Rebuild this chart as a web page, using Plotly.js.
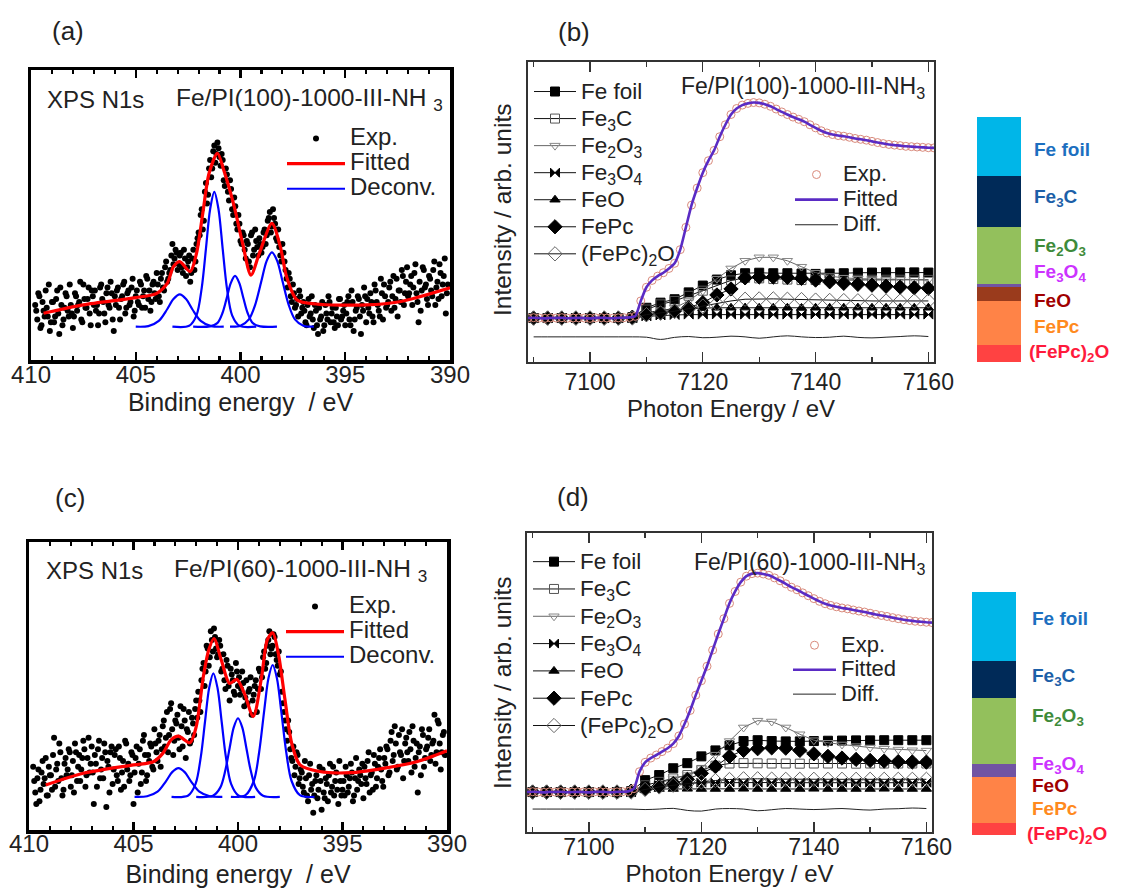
<!DOCTYPE html>
<html><head><meta charset="utf-8">
<script src="https://cdn.plot.ly/plotly-3.0.1.min.js"></script>
<style>body{margin:0;background:#fff}#chart{width:1124px;height:888px}</style>
</head><body><div id="chart"></div>
<script>
// ---------------- DATA ----------------
// XPS N1s (a): experimental points on two interleaved 0.1 eV grids (409.8 and 409.75 eV start)
const xpsA_start = 409.8, xpsA_start2 = 409.75, xps_step = -0.1;
const xpsA_exp = [
0.19,0.14,0.22,0.12,0.17,0.24,0.15,0.10,0.20,
0.13,0.21,0.16,0.25,0.12,0.18,0.22,0.15,0.19,0.11,
0.23,0.17,0.20,0.14,0.26,0.18,0.21,0.16,0.24,0.19,
0.17,0.12,0.25,0.21,0.16,0.23,0.19,0.27,0.14,0.22,
0.24,0.18,0.21,0.26,0.16,0.23,0.19,0.25,0.15,0.22,
0.20,0.27,0.18,0.24,0.29,0.21,0.17,0.26,0.23,0.30,
0.22,0.28,0.25,0.32,0.27,0.30,0.36,0.33,0.38,0.31,
0.36,0.32,0.38,0.29,0.34,0.27,0.35,0.31,0.40,0.44,
0.50,0.45,0.58,0.54,0.66,0.63,0.72,0.68,0.75,0.70,
0.71,0.62,0.66,0.58,0.62,0.52,0.56,0.47,0.50,0.41,
0.44,0.38,0.41,0.34,0.43,0.36,0.45,0.39,0.42,0.37,
0.44,0.40,0.48,0.51,0.46,0.49,0.42,0.45,0.36,0.40,
0.34,0.28,0.30,0.22,0.26,0.18,0.21,0.24,0.16,0.20,
0.13,0.19,0.15,0.22,0.11,0.17,0.09,0.14,0.20,0.12,
0.16,0.22,0.13,0.18,0.11,0.15,0.21,0.14,0.17,0.12,
0.20,0.14,0.24,0.10,0.17,0.22,0.15,0.19,0.25,0.13,
0.18,0.23,0.15,0.26,0.20,0.17,0.28,0.14,0.22,0.19,
0.25,0.17,0.29,0.21,0.15,0.24,0.31,0.19,0.27,0.22,
0.26,0.19,0.30,0.23,0.13,0.17,0.32,0.25,0.21,0.29,
0.24,0.31,0.19,0.27,0.33,0.22,0.29,0.16,0.26];
const xpsA_exp2 = [
0.17,0.23,0.11,0.20,0.15,0.18,0.26,0.13,
0.20,0.15,0.24,0.09,0.19,0.14,0.23,0.17,0.26,0.16,
0.15,0.22,0.19,0.27,0.13,0.21,0.18,0.25,0.12,0.22,
0.24,0.19,0.16,0.26,0.20,0.13,0.25,0.18,0.23,0.10,
0.19,0.25,0.14,0.22,0.27,0.18,0.24,0.20,0.28,0.17,
0.24,0.19,0.26,0.22,0.18,0.28,0.24,0.20,0.27,0.21,
0.26,0.20,0.30,0.24,0.34,0.28,0.31,0.40,0.35,0.37,
0.33,0.37,0.30,0.35,0.32,0.36,0.30,0.38,0.34,0.42,
0.43,0.52,0.48,0.61,0.57,0.69,0.66,0.74,0.71,0.73,
0.67,0.69,0.60,0.64,0.55,0.59,0.50,0.53,0.45,0.47,
0.40,0.43,0.35,0.40,0.32,0.44,0.38,0.41,0.36,0.40,
0.39,0.45,0.43,0.49,0.44,0.52,0.47,0.41,0.39,0.34,
0.37,0.31,0.25,0.28,0.20,0.23,0.19,0.15,0.22,0.18,
0.17,0.12,0.21,0.16,0.14,0.19,0.12,0.18,0.15,0.10,
0.19,0.14,0.20,0.16,0.13,0.18,0.12,0.21,0.15,0.19,
0.16,0.22,0.12,0.20,0.14,0.18,0.21,0.09,0.17,0.22,
0.21,0.16,0.20,0.13,0.24,0.19,0.15,0.23,0.26,0.18,
0.20,0.27,0.22,0.18,0.28,0.24,0.20,0.29,0.23,0.32,
0.23,0.29,0.25,0.33,0.20,0.27,0.24,0.31,0.26,0.19,
0.28,0.22,0.34,0.25,0.21,0.30,0.26,0.35,0.23];
const fitA_E = [409.4,407.5,405.0,404.0,403.5,403.2,402.9,402.4,402.1,401.8,401.5,401.1,400.8,400.3,399.9,399.5,399.1,398.5,398.1,397.8,397.3,396.4,394.0,392.4,390.0];
const fitA_I = [0.161,0.190,0.215,0.230,0.264,0.322,0.339,0.305,0.368,0.506,0.644,0.713,0.655,0.529,0.402,0.293,0.368,0.471,0.391,0.287,0.207,0.193,0.190,0.201,0.249];
const gA1_E = [405.0,404.4,403.9,403.5,403.2,402.9,402.6,402.3,401.9,401.4,400.8];
const gA1_I = [0.115,0.117,0.135,0.175,0.210,0.226,0.210,0.175,0.135,0.117,0.115];
const gA2_E = [403.25,402.45,402.1,401.85,401.65,401.45,401.25,401.05,400.85,400.65,400.4,400.05,399.25];
const gA2_I = [0.115,0.118,0.154,0.249,0.383,0.52,0.58,0.52,0.383,0.249,0.154,0.118,0.115];
const gA3_E = [402.26,401.46,401.11,400.86,400.66,400.46,400.26,400.06,399.86,399.66,399.41,399.06,398.26];
const gA3_I = [0.115,0.116,0.127,0.162,0.213,0.266,0.29,0.266,0.213,0.162,0.127,0.116,0.115];
const gA4_E = [400.5,400.0,399.6,399.3,399.0,398.75,398.5,398.25,398.0,397.7,397.4,397.0,396.5];
const gA4_I = [0.115,0.118,0.140,0.190,0.273,0.342,0.371,0.342,0.273,0.190,0.140,0.118,0.115];

// XPS N1s (c)
const xpsC_start = 409.8, xpsC_start2 = 409.75;
const xpsC_exp = [
0.22,0.13,0.18,0.10,0.20,0.16,0.25,0.12,0.19,
0.14,0.32,0.21,0.17,0.27,0.12,0.23,0.19,0.28,0.15,
0.24,0.30,0.17,0.26,0.21,0.31,0.15,0.25,0.20,0.29,
0.09,0.23,0.28,0.18,0.25,0.30,0.08,0.22,0.27,0.16,
0.26,0.19,0.29,0.14,0.24,0.31,0.21,0.17,0.27,0.09,
0.25,0.13,0.28,0.20,0.33,0.17,0.26,0.30,0.22,0.35,
0.27,0.31,0.22,0.36,0.29,0.41,0.33,0.44,0.26,0.38,
0.40,0.28,0.36,0.42,0.25,0.34,0.30,0.39,0.33,0.45,
0.48,0.41,0.56,0.50,0.64,0.57,0.69,0.62,0.67,0.60,
0.66,0.55,0.61,0.49,0.57,0.45,0.54,0.48,0.58,0.50,
0.47,0.55,0.43,0.52,0.48,0.53,0.45,0.50,0.41,0.56,
0.49,0.60,0.56,0.64,0.69,0.63,0.68,0.61,0.57,0.54,
0.48,0.41,0.35,0.38,0.28,0.24,0.19,0.27,0.16,0.21,
0.15,0.24,0.12,0.19,0.14,0.06,0.17,0.11,0.22,0.07,
0.13,0.18,0.10,0.23,0.15,0.12,0.20,0.09,0.17,0.14,
0.12,0.19,0.15,0.23,0.10,0.18,0.14,0.21,0.16,0.11,
0.18,0.24,0.13,0.20,0.26,0.15,0.22,0.28,0.17,0.25,
0.29,0.19,0.31,0.24,0.36,0.21,0.33,0.26,0.18,0.30,
0.27,0.34,0.20,0.31,0.25,0.13,0.29,0.35,0.22,0.28,
0.32,0.24,0.30,0.40,0.27,0.37,0.21,0.33,0.26];
const xpsC_exp2 = [
0.17,0.09,0.21,0.14,0.24,0.18,0.12,0.22,
0.19,0.26,0.15,0.23,0.30,0.18,0.14,0.25,0.21,0.27,
0.19,0.13,0.27,0.22,0.17,0.25,0.28,0.19,0.32,0.23,
0.20,0.26,0.15,0.31,0.21,0.18,0.27,0.24,0.13,0.29,
0.21,0.28,0.17,0.25,0.20,0.15,0.30,0.23,0.19,0.26,
0.20,0.29,0.23,0.16,0.31,0.26,0.19,0.24,0.29,0.21,
0.30,0.24,0.33,0.28,0.38,0.32,0.27,0.42,0.35,0.31,
0.37,0.32,0.43,0.29,0.38,0.35,0.41,0.31,0.37,0.42,
0.39,0.45,0.52,0.58,0.55,0.63,0.60,0.66,0.70,0.63,
0.61,0.64,0.56,0.52,0.59,0.50,0.56,0.52,0.47,0.55,
0.53,0.49,0.51,0.46,0.44,0.49,0.40,0.47,0.52,0.49,
0.55,0.53,0.62,0.58,0.66,0.61,0.64,0.67,0.59,0.62,
0.55,0.44,0.38,0.31,0.34,0.25,0.29,0.22,0.26,0.18,
0.20,0.13,0.18,0.10,0.23,0.16,0.12,0.19,0.14,0.17,
0.21,0.11,0.16,0.19,0.13,0.22,0.17,0.14,0.24,0.12,
0.17,0.22,0.13,0.18,0.20,0.12,0.25,0.17,0.19,0.23,
0.22,0.16,0.27,0.19,0.14,0.23,0.18,0.25,0.21,0.15,
0.23,0.28,0.20,0.34,0.26,0.30,0.22,0.27,0.35,0.24,
0.32,0.24,0.28,0.36,0.22,0.30,0.27,0.19,0.33,0.25,
0.29,0.35,0.26,0.31,0.23,0.38,0.30,0.27,0.34];
const fitC_E = [409.2,407.4,405.0,404.05,403.6,403.2,402.85,402.3,402.0,401.66,401.4,401.15,400.8,400.4,400.06,399.7,399.27,398.87,398.6,398.34,398.07,397.75,397.43,397.03,396.1,394.6,393.05,391.45,390.0];
const fitC_I = [0.156,0.197,0.226,0.237,0.266,0.313,0.326,0.303,0.359,0.532,0.625,0.665,0.590,0.509,0.523,0.475,0.394,0.532,0.660,0.685,0.613,0.451,0.301,0.226,0.203,0.199,0.214,0.237,0.275];
const gC1_E = [404.95,404.35,403.85,403.45,403.15,402.85,402.55,402.25,401.85,401.35,400.75];
const gC1_I = [0.115,0.117,0.133,0.169,0.201,0.215,0.201,0.169,0.133,0.117,0.115];
const gC2_E = [403.18,402.38,402.03,401.78,401.58,401.38,401.18,400.98,400.78,400.58,400.33,399.98,399.18];
const gC2_I = [0.115,0.12,0.160,0.254,0.375,0.493,0.544,0.493,0.375,0.254,0.160,0.12,0.115];
const gC3_E = [402.0,401.2,400.85,400.6,400.4,400.2,400.0,399.8,399.6,399.4,399.15,398.8,398.0];
const gC3_I = [0.115,0.119,0.147,0.209,0.285,0.357,0.388,0.357,0.285,0.209,0.147,0.119,0.115];
const gC4_E = [400.34,399.64,399.24,398.99,398.74,398.54,398.34,398.14,397.94,397.69,397.44,397.04,396.34];
const gC4_I = [0.115,0.121,0.171,0.269,0.418,0.528,0.573,0.528,0.418,0.269,0.171,0.121,0.115];

// Fe K-edge XANES, 1 eV grid from 7089 eV
const xas_start = 7089, xas_step = 1;
const xasB_exp = [0,0.002,0,-0.002,0.001,0,0.002,-0.001,0,0.001,0,-0.002,0.001,0.002,0,-0.001,0.001,0.002,0.004,
0.01,0.10,0.18,0.22,0.245,0.265,0.29,0.32,0.40,0.53,0.66,0.76,0.85,0.92,0.98,1.06,1.13,1.19,1.225,1.245,1.255,1.26,1.258,
1.25,1.238,1.222,1.205,1.19,1.175,1.162,1.148,1.13,1.112,1.095,1.082,1.073,1.067,1.063,1.057,1.05,1.045,1.04,1.033,
1.026,1.02,1.015,1.011,1.008,1.004,1.002,1.0,0.998,0.996,0.995];
const xasD_exp = [0,0.002,0,-0.002,0.001,0,0.002,-0.001,0,0.001,0,-0.002,0.001,0.002,0,-0.001,0.001,0.002,0.004,
0.02,0.12,0.175,0.20,0.218,0.238,0.258,0.285,0.33,0.40,0.48,0.57,0.655,0.74,0.835,0.93,1.02,1.11,1.18,1.235,1.27,1.285,1.288,
1.283,1.275,1.26,1.243,1.225,1.205,1.19,1.172,1.155,1.138,1.122,1.108,1.098,1.09,1.083,1.078,1.071,1.065,1.059,1.052,
1.045,1.039,1.033,1.026,1.02,1.014,1.009,1.005,1.002,0.999,0.997];
// reference components, 2.5 eV grid from 7090 eV
const comp_start = 7090, comp_step = 2.5;
const compNames = ['Fe foil','Fe<sub>3</sub>C','Fe<sub>2</sub>O<sub>3</sub>','Fe<sub>3</sub>O<sub>4</sub>','FeO','FePc','(FePc)<sub>2</sub>O'];
const B_feFoil = [0,0,0,0,0,0,0,0.005,0.06,0.09,0.11,0.15,0.19,0.225,0.25,0.262,0.265,0.262,0.262,0.26,0.258,0.26,0.262,0.265,0.266,0.267,0.267,0.267,0.266];
const B_fe3c   = [0,0,0,0,0,0,0,0,0.05,0.08,0.10,0.13,0.16,0.19,0.22,0.235,0.232,0.228,0.225,0.222,0.222,0.222,0.223,0.224,0.224,0.224,0.224,0.224,0.223];
const B_fe2o3  = [0,0,0,0,0,0,0,0,0.02,0.04,0.06,0.10,0.16,0.23,0.29,0.335,0.355,0.355,0.335,0.30,0.265,0.245,0.235,0.23,0.228,0.226,0.225,0.224,0.224];
const B_fe3o4  = [0,0,0,0,0,0,0,0,0.01,0.015,0.018,0.02,0.02,0.021,0.02,0.02,0.021,0.02,0.02,0.02,0.021,0.02,0.02,0.02,0.021,0.02,0.02,0.02,0.02];
const B_feo    = [0,0,0,0,0,0,0,0,0.03,0.045,0.05,0.055,0.058,0.06,0.06,0.061,0.06,0.06,0.06,0.059,0.06,0.06,0.06,0.061,0.06,0.06,0.06,0.06,0.06];
const B_fepc   = [0,0,0,0,0,0,0,0.005,0.02,0.03,0.04,0.06,0.09,0.135,0.17,0.235,0.24,0.24,0.238,0.232,0.222,0.212,0.203,0.197,0.192,0.186,0.181,0.177,0.174];
const B_fepc2o = [0,0,0,0,0,0,0,0,0.02,0.03,0.04,0.055,0.07,0.085,0.10,0.11,0.112,0.112,0.11,0.108,0.105,0.103,0.102,0.101,0.1,0.1,0.1,0.1,0.1];
const B_diff   = [-0.11,-0.11,-0.11,-0.11,-0.11,-0.11,-0.11,-0.11,-0.112,-0.125,-0.113,-0.108,-0.115,-0.112,-0.106,-0.11,-0.118,-0.11,-0.104,-0.11,-0.114,-0.112,-0.106,-0.113,-0.116,-0.112,-0.108,-0.104,-0.108];
const D_feFoil = [0,0,0,0,0,0,0,0.005,0.07,0.10,0.14,0.17,0.21,0.245,0.275,0.30,0.305,0.30,0.298,0.298,0.30,0.302,0.303,0.304,0.304,0.305,0.305,0.305,0.305];
const D_fe3c   = [0,0,0,0,0,0,0,0,0.04,0.06,0.08,0.10,0.13,0.155,0.168,0.17,0.169,0.168,0.168,0.167,0.168,0.168,0.168,0.167,0.168,0.168,0.168,0.168,0.168];
const D_fe2o3  = [0,0,0,0,0,0,0,0,0.02,0.05,0.08,0.10,0.14,0.22,0.30,0.38,0.42,0.415,0.38,0.34,0.305,0.29,0.28,0.27,0.262,0.255,0.25,0.246,0.244];
const D_fe3o4  = [0,0,0,0,0,0,0,0,0.025,0.04,0.045,0.05,0.055,0.055,0.056,0.055,0.055,0.056,0.055,0.055,0.055,0.056,0.055,0.055,0.055,0.055,0.056,0.055,0.055];
const D_feo    = [0,0,0,0,0,0,0,0,0.01,0.018,0.018,0.019,0.018,0.018,0.018,0.019,0.018,0.018,0.018,0.018,0.019,0.018,0.018,0.018,0.018,0.019,0.018,0.018,0.018];
const D_fepc   = [0,0,0,0,0,0,0,0.005,0.02,0.035,0.05,0.075,0.11,0.15,0.21,0.245,0.255,0.26,0.258,0.245,0.225,0.21,0.2,0.192,0.186,0.182,0.179,0.177,0.176];
const D_fepc2o = [0,0,0,0,0,0,0,0,0.015,0.03,0.04,0.05,0.06,0.068,0.074,0.078,0.078,0.076,0.075,0.075,0.075,0.075,0.075,0.075,0.075,0.075,0.075,0.075,0.075];
const D_diff   = [-0.1,-0.1,-0.1,-0.1,-0.1,-0.1,-0.1,-0.1,-0.103,-0.1,-0.096,-0.108,-0.112,-0.1,-0.097,-0.1,-0.11,-0.104,-0.097,-0.1,-0.103,-0.1,-0.097,-0.102,-0.106,-0.1,-0.098,-0.094,-0.097];

// LCF fractions (%) for bars, order = compNames
const fracB = [24, 21, 23, 1.5, 5.5, 18, 7];
const fracD = [28.2, 15.6, 26.8, 5.4, 0, 19, 5];

// ---------------- STYLE / LAYOUT ----------------
const W = 1124, H = 888;
const FONT = 'Liberation Sans, Arial, sans-serif';
const X = v => v / W, Y = v => 1 - v / H;
const sp = (t, s) => '<span style="font-size:' + s + 'px">' + t + '</span>';

const barColors = ['#00b6e8','#002a58','#93c05c','#7154a3','#9a3b1c','#ff8347','#ff4242'];
const labColors = ['#1c6fc0','#1c5fa8','#3e8b3a','#cc33ff','#a00000','#ff8a1e','#ff1a3c'];
const compSym = [
  {symbol:'square', color:'#000', size:9},
  {symbol:'square-open', color:'#555', size:9},
  {symbol:'triangle-down-open', color:'#888', size:9},
  {symbol:'bowtie', color:'#000', size:9},
  {symbol:'triangle-up', color:'#000', size:9},
  {symbol:'diamond', color:'#000', size:11},
  {symbol:'diamond-open', color:'#666', size:11}
];

const traces = [];
function xpsTraces(xa, ya, start, exp, start2, exp2, fe, fi, gs, leg, txtSize) {
  traces.push({type:'scatter', mode:'markers', x0:start, dx:xps_step, y:exp, xaxis:xa, yaxis:ya,
    marker:{color:'#000', size:6}, name:sp('Exp.', txtSize), legend:leg, legendgroup:xa + 'exp'});
  traces.push({type:'scatter', mode:'markers', x0:start2, dx:xps_step, y:exp2, xaxis:xa, yaxis:ya,
    marker:{color:'#000', size:6}, name:'Exp.', legend:leg, legendgroup:xa + 'exp', showlegend:false});
  traces.push({type:'scatter', mode:'lines', x:fe, y:fi, xaxis:xa, yaxis:ya,
    line:{color:'#ff0000', width:3.2, shape:'spline', smoothing:0.8}, name:sp('Fitted', txtSize), legend:leg});
  gs.forEach((g, i) => traces.push({type:'scatter', mode:'lines', x:g[0], y:g[1], xaxis:xa, yaxis:ya,
    line:{color:'#0000ff', width:2.2, shape:'spline', smoothing:0.9}, name:sp('Deconv.', txtSize),
    legend:leg, showlegend:i === 0}));
}
xpsTraces('x','y', xpsA_start, xpsA_exp, xpsA_start2, xpsA_exp2, fitA_E, fitA_I, [[gA1_E,gA1_I],[gA2_E,gA2_I],[gA3_E,gA3_I],[gA4_E,gA4_I]], 'legend', 24);
xpsTraces('x3','y3', xpsC_start, xpsC_exp, xpsC_start2, xpsC_exp2, fitC_E, fitC_I, [[gC1_E,gC1_I],[gC2_E,gC2_I],[gC3_E,gC3_I],[gC4_E,gC4_I]], 'legend4', 24);

function xasTraces(xa, ya, comps, exp, diff, legC, legE) {
  comps.forEach((c, i) => traces.push({type:'scatter', mode:'lines+markers', x0:comp_start, dx:comp_step, y:c,
    xaxis:xa, yaxis:ya, name:sp(compNames[i], 22.5), legend:legC,
    line:{color: i === 2 ? '#666' : '#111', width:1},
    marker:{symbol:compSym[i].symbol, size:compSym[i].size, color:compSym[i].color,
            line:{color:compSym[i].color, width:1}}}));
  traces.push({type:'scatter', mode:'markers', x0:xas_start, dx:xas_step, y:exp, xaxis:xa, yaxis:ya,
    name:sp('Exp.', 22), legend:legE, marker:{symbol:'circle-open', size:8, color:'#d98a7c', line:{width:1}}});
  traces.push({type:'scatter', mode:'lines', x0:xas_start, dx:xas_step, y:exp, xaxis:xa, yaxis:ya,
    name:sp('Fitted', 22), legend:legE, line:{color:'#5a2bc4', width:2.6, shape:'spline', smoothing:0.6}});
  traces.push({type:'scatter', mode:'lines', x0:comp_start, dx:comp_step, y:diff, xaxis:xa, yaxis:ya,
    name:sp('Diff.', 22), legend:legE, line:{color:'#222', width:1, shape:'spline'}});
}
xasTraces('x2','y2', [B_feFoil,B_fe3c,B_fe2o3,B_fe3o4,B_feo,B_fepc,B_fepc2o], xasB_exp, B_diff, 'legend2', 'legend3');
xasTraces('x4','y4', [D_feFoil,D_fe3c,D_fe2o3,D_fe3o4,D_feo,D_fepc,D_fepc2o], xasD_exp, D_diff, 'legend5', 'legend6');

function barTraces(xa, ya, frac) {
  for (let i = frac.length - 1; i >= 0; i--) {
    traces.push({type:'bar', x:['s'], y:[frac[i]], xaxis:xa, yaxis:ya, showlegend:false,
      marker:{color:barColors[i], line:{width:0}}, name:compNames[i]});
  }
}
barTraces('x5','y5', fracB);
barTraces('x6','y6', fracD);

function xpsX(dom, anc, lblOff, titleOff) {
  return {domain:dom, anchor:anc, range:[410,390], tick0:390, dtick:5, ticks:'inside', ticklen:8, tickwidth:2.2, tickcolor:'#000',
    minor:{dtick:1, ticks:'inside', ticklen:4, tickwidth:2.2, tickcolor:'#000'},
    showline:true, linewidth:3.5, linecolor:'#000', mirror:'ticks', showgrid:false, zeroline:false,
    tickfont:{family:FONT, size:24, color:'#222'}, ticklabelstandoff:lblOff,
    title:{text:'Binding energy\u00a0\u00a0/ eV', font:{family:FONT, size:25, color:'#222'}, standoff:titleOff}};
}
function xpsY(dom, anc) {
  return {domain:dom, anchor:anc, range:[0,1], showticklabels:false, ticks:'', showline:true, linewidth:3.5, linecolor:'#000',
    mirror:true, showgrid:false, zeroline:false};
}
function xasX(dom, anc, lblOff, titleOff) {
  return {domain:dom, anchor:anc, range:[7089,7161], tick0:7100, dtick:20, ticks:'inside', ticklen:10, tickwidth:1.3, tickcolor:'#333',
    minor:{dtick:10, ticks:'inside', ticklen:5, tickwidth:1.3, tickcolor:'#333'},
    showline:true, linewidth:1.6, linecolor:'#333', mirror:'ticks', showgrid:false, zeroline:false,
    tickfont:{family:FONT, size:23, color:'#222'}, ticklabelstandoff:lblOff,
    title:{text:'Photon Energy / eV', font:{family:FONT, size:24, color:'#222'}, standoff:titleOff}};
}
function xasY(dom, r, anc) {
  return {domain:dom, anchor:anc, range:r, showticklabels:false, ticks:'', showline:true, linewidth:1.6, linecolor:'#333',
    mirror:true, showgrid:false, zeroline:false};
}
function hidden(dom, r, anc) {
  return {domain:dom, anchor:anc, range:r, visible:false, fixedrange:true};
}
function leg(x, y, fs, iw) {
  return {x:X(x), y:Y(y), xanchor:'left', yanchor:'top', bgcolor:'rgba(0,0,0,0)', borderwidth:0,
    font:{family:FONT, size:fs, color:'#222'}, itemwidth:iw, tracegroupgap:0, traceorder:'normal'};
}

const ann = [];
function txt(t, x, y, size, opts) {
  ann.push(Object.assign({text:t, x:X(x), y:Y(y), xref:'paper', yref:'paper', showarrow:false,
    xanchor:'left', yanchor:'middle', font:{family:FONT, size:size, color:'#222'}}, opts || {}));
}
txt('(a)', 50, 31, 26); txt('(b)', 556, 32, 26); txt('(c)', 53, 498, 26); txt('(d)', 555, 497, 26);
txt('XPS N1s', 45, 100, 24); txt('Fe/PI(100)-1000-III-NH\u00a0<sub>3</sub>', 174, 100, 24.5);
txt('XPS N1s', 44, 570, 24); txt('Fe/PI(60)-1000-III-NH\u00a0<sub>3</sub>', 172, 570, 24.5);
txt('Fe/PI(100)-1000-III-NH<sub>3</sub>', 927, 87, 23, {xanchor:'right'});
txt('Fe/PI(60)-1000-III-NH<sub>3</sub>', 927, 563, 23, {xanchor:'right'});
txt('Intensity / arb. units', 502, 210, 24.5, {xanchor:'center', textangle:-90});
txt('Intensity / arb. units', 502, 683, 24.5, {xanchor:'center', textangle:-90});
const labYB = [149,198,247,273,300,327,353];
const labYD = [618,677,717,765,785,808,835];
compNames.forEach((n, i) => {
  const last = i === compNames.length - 1;
  txt('<b>' + n + '</b>', last ? 1027 : 1032, labYB[i], 19, {font:{family:FONT, size:19, color:labColors[i]}});
  txt('<b>' + n + '</b>', last ? 1025 : 1030, labYD[i], 19, {font:{family:FONT, size:19, color:labColors[i]}});
});

const layout = {
  width:W, height:H, margin:{l:0, r:0, t:0, b:0}, paper_bgcolor:'#fff', plot_bgcolor:'rgba(0,0,0,0)',
  showlegend:true, barmode:'stack', bargap:0,
  font:{family:FONT, color:'#222'},
  xaxis: xpsX([X(31), X(450)], 'y', -9, 7),  yaxis: xpsY([Y(360), Y(70)], 'x'),
  xaxis3: xpsX([X(29), X(447)], 'y3', -10, 13), yaxis3: xpsY([Y(830), Y(542)], 'x3'),
  xaxis2: xasX([X(528), X(934)], 'y2', -1, 1), yaxis2: xasY([Y(362), Y(62)], [-0.257, 1.497], 'x2'),
  xaxis4: xasX([X(527), X(932)], 'y4', -6, 6), yaxis4: xasY([Y(832), Y(533)], [-0.235, 1.524], 'x4'),
  xaxis5: hidden([X(977), X(1021)], [-0.5, 0.5], 'y5'), yaxis5: hidden([Y(362), Y(117)], [0, 100], 'x5'),
  xaxis6: hidden([X(972), X(1016)], [-0.5, 0.5], 'y6'), yaxis6: hidden([Y(835), Y(592)], [0, 100], 'x6'),
  legend:  leg(282, 121, 17, 58),
  legend4: leg(281, 589, 17, 58),
  legend2: leg(529, 73, 18.5, 42),
  legend3: leg(790, 157, 17, 43),
  legend5: leg(528, 543, 18.7, 42),
  legend6: leg(788, 628, 16.5, 43),
  annotations: ann
};
Plotly.newPlot('chart', traces, layout, {staticPlot:true, displayModeBar:false});
</script></body></html>
